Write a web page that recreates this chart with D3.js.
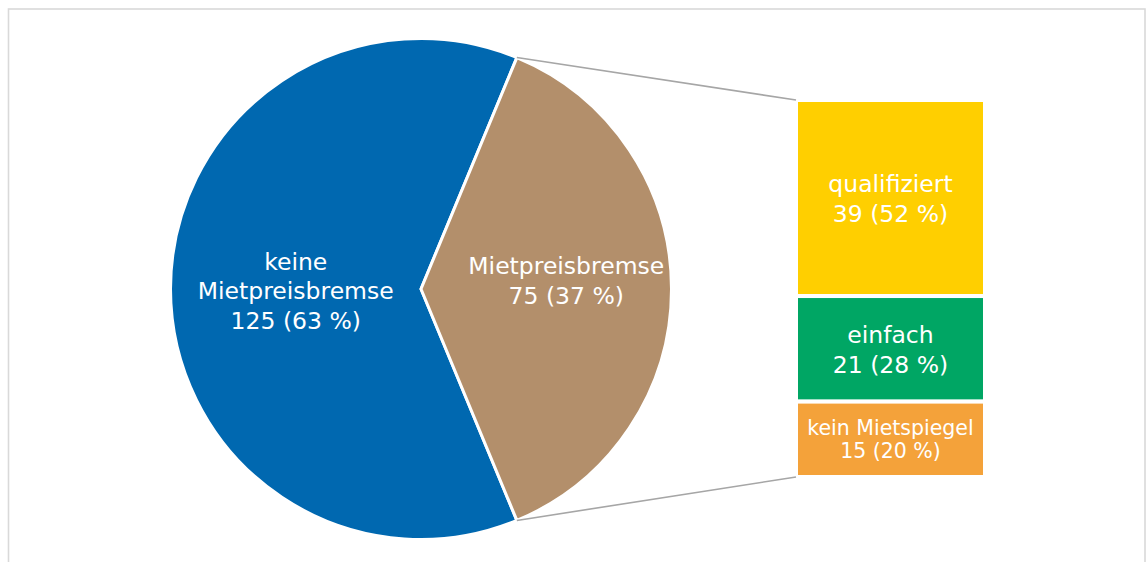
<!DOCTYPE html>
<html>
<head>
<meta charset="utf-8">
<script src="https://cdn.jsdelivr.net/npm/d3@7"></script>
<style>
  body { margin: 0; background: #fff; }
  svg { display: block; font-family: "DejaVu Sans", Verdana, sans-serif; }
</style>
</head>
<body>
<svg></svg>
<script>
// pie: share of municipalities with / without Mietpreisbremse
const pieNames = ['keine Mietpreisbremse', 'Mietpreisbremse'];
const pieLines = [['keine', 'Mietpreisbremse'], ['Mietpreisbremse']];
const pieValues = [125, 75];
const piePercents = [63, 37];
const pieColors = ['#0068b0', '#b38f6b'];

// bar: breakdown of the Mietpreisbremse slice by Mietspiegel type
const barNames = ['qualifiziert', 'einfach', 'kein Mietspiegel'];
const barValues = [39, 21, 15];
const barPercents = [52, 28, 20];
const barColors = ['#ffcf00', '#00a664', '#f4a23a'];

const size = {w: 1146, h: 562};
const svg = d3.select('svg')
    .attr('width', size.w)
    .attr('height', size.h);

// light frame of the chart area (bottom runs off the page)
svg.append('rect')
    .attr('x', 8.5).attr('y', 9)
    .attr('width', 1136.5).attr('height', 600)
    .attr('fill', 'none')
    .attr('stroke', '#d9d9d9')
    .attr('stroke-width', 1.6);

// ----- PIE -----
const cx = 421, cy = 289, radius = 250.5;
// rotate so that the small slice is centred on the right side
const start = (180 - 22.5) * Math.PI / 180;
const pie = d3.pie().sort(null)
    .startAngle(start)
    .endAngle(start + 2 * Math.PI);
const arcs = pie(pieValues);
const arc = d3.arc().innerRadius(0).outerRadius(radius);

const pieG = svg.append('g').attr('transform', `translate(${cx},${cy})`);

pieG.selectAll('path')
    .data(arcs)
    .join('path')
    .attr('d', arc)
    .attr('fill', (d, i) => pieColors[i])
    .attr('stroke', '#fff')
    .attr('stroke-width', 3)
    .attr('stroke-linejoin', 'round');

// label radius differs a little per slice (as placed in the original)
const labelRadius = [radius * 0.5, radius * 0.58];
const labelDy = [2, -8];
const lineH = 29.5;
pieG.selectAll('text.pie-label')
    .data(arcs)
    .join('text')
    .classed('pie-label', true)
    .attr('fill', '#fff')
    .attr('font-size', 23.5)
    .attr('text-anchor', 'middle')
    .each(function(d, i) {
        const a = (d.startAngle + d.endAngle) / 2;
        const x = labelRadius[i] * Math.sin(a);
        const y = -labelRadius[i] * Math.cos(a) + labelDy[i];
        const lines = pieLines[i].concat([`${pieValues[i]} (${piePercents[i]} %)`]);
        const y0 = y - (lines.length - 1) * lineH / 2 + 8;
        d3.select(this).selectAll('tspan')
            .data(lines)
            .join('tspan')
            .attr('x', x)
            .attr('y', (t, j) => y0 + j * lineH)
            .text(t => t);
    });

// ----- BAR -----
const barX = 796, barW = 189;
const yScale = d3.scaleLinear()
    .domain([0, d3.sum(barValues)])
    .range([100, 477]);
const cum = d3.cumsum(barValues);
const barData = barValues.map((v, i) => ({
    name: barNames[i], value: v, pct: barPercents[i],
    y0: i === 0 ? 0 : cum[i - 1], y1: cum[i], color: barColors[i]
}));

const barG = svg.append('g');
barG.selectAll('rect')
    .data(barData)
    .join('rect')
    .attr('x', barX)
    .attr('y', d => yScale(d.y0))
    .attr('width', barW)
    .attr('height', d => yScale(d.y1) - yScale(d.y0))
    .attr('fill', d => d.color)
    .attr('stroke', '#fff')
    .attr('stroke-width', 4);

barG.selectAll('text')
    .data(barData)
    .join('text')
    .attr('fill', '#fff')
    .attr('text-anchor', 'middle')
    .attr('font-size', d => d.name.length > 14 ? 20.5 : 23.5)
    .each(function(d) {
        const small = d.name.length > 14;
        const lh = small ? 23 : 29.5;
        const mid = (yScale(d.y0) + yScale(d.y1)) / 2;
        const lines = [d.name, `${d.value} (${d.pct} %)`];
        const y0 = mid - lh / 2 + (small ? 7 : 9);
        d3.select(this).selectAll('tspan')
            .data(lines)
            .join('tspan')
            .attr('x', barX + barW / 2)
            .attr('y', (t, j) => y0 + j * lh)
            .text(t => t);
    });

// ----- CONNECTOR LINES -----
const brown = arcs[1];
const pTop = [cx + radius * Math.sin(brown.startAngle), cy - radius * Math.cos(brown.startAngle)];
const pBot = [cx + radius * Math.sin(brown.endAngle), cy - radius * Math.cos(brown.endAngle)];
svg.append('g')
    .selectAll('line')
    .data([[pTop, [barX, yScale(0)]], [pBot, [barX, yScale(d3.sum(barValues))]]])
    .join('line')
    .attr('x1', d => d[0][0]).attr('y1', d => d[0][1])
    .attr('x2', d => d[1][0]).attr('y2', d => d[1][1])
    .attr('stroke', '#a6a6a6')
    .attr('stroke-width', 1.6);
</script>
</body>
</html>
